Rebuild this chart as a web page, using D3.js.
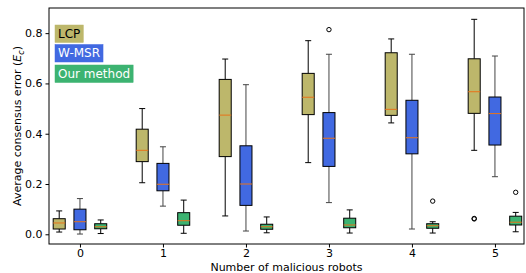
<!DOCTYPE html>
<html><head><meta charset="utf-8">
<script src="https://cdn.jsdelivr.net/npm/d3@7"></script>
<style>body{margin:0;background:#fff}svg{display:block;font-family:"DejaVu Sans",sans-serif}</style>
</head><body><svg id="c" width="526" height="273"></svg>
<script>
const categories = [0, 1, 2, 3, 4, 5];
const seriesNames = ["LCP", "W-MSR", "Our method"];
// [whiskerLow, q1, median, q3, whiskerHigh] per category
const lcp = [
  [0.009, 0.021, 0.045, 0.062, 0.093],
  [0.205, 0.289, 0.334, 0.418, 0.500],
  [0.073, 0.309, 0.474, 0.616, 0.697],
  [0.285, 0.476, 0.545, 0.640, 0.770],
  [0.443, 0.473, 0.497, 0.722, 0.777],
  [0.334, 0.481, 0.567, 0.698, 0.855]
];
const wmsr = [
  [0.001, 0.018, 0.050, 0.100, 0.142],
  [0.112, 0.173, 0.199, 0.282, 0.348],
  [0.013, 0.115, 0.200, 0.352, 0.595],
  [0.126, 0.270, 0.382, 0.484, 0.716],
  [0.021, 0.320, 0.384, 0.533, 0.716],
  [0.229, 0.355, 0.480, 0.546, 0.709]
];
const ours = [
  [0.003, 0.022, 0.030, 0.042, 0.057],
  [0.004, 0.036, 0.054, 0.086, 0.136],
  [0.006, 0.020, 0.030, 0.040, 0.069],
  [0.005, 0.026, 0.037, 0.064, 0.097],
  [0.005, 0.024, 0.034, 0.042, 0.050],
  [0.010, 0.037, 0.048, 0.072, 0.087]
];
const lcpOutliers = [[], [], [], [], [], [0.061, 0.063]];
const wmsrOutliers = [[], [], [], [0.814], [], []];
const oursOutliers = [[], [], [], [], [0.132], [0.167]];
const yTicks = [0.0, 0.2, 0.4, 0.6, 0.8];

const fills = ["#bdb76b", "#4169e1", "#3cb371"];
const whiskerColors = ["#000", "#444", "#000"];
const textColors = ["#000", "#fff", "#fff"];
const offsets = [-0.25, 0, 0.25];
const allStats = [lcp, wmsr, ours];
const allOut = [lcpOutliers, wmsrOutliers, oursOutliers];

const svg = d3.select("#c");
const L = 49, R = 524, T = 8, B = 244;
const x = d3.scaleLinear().domain([-0.373, 5.35]).range([L, R]);
const y = d3.scaleLinear().domain([-0.0386, 0.9]).range([B, T]);
const bw = x(0.145) - x(0);
const capW = bw * 0.5;

const g = svg.append("g");
allStats.forEach((stats, si) => {
  stats.forEach((s, ci) => {
    const cx = x(categories[ci] + offsets[si]);
    const [lo, q1, med, q3, hi] = s;
    const grp = g.append("g");
    grp.append("line").attr("x1", cx).attr("x2", cx).attr("y1", y(q1)).attr("y2", y(lo))
      .attr("stroke", whiskerColors[si]).attr("stroke-width", 1);
    grp.append("line").attr("x1", cx).attr("x2", cx).attr("y1", y(q3)).attr("y2", y(hi))
      .attr("stroke", whiskerColors[si]).attr("stroke-width", 1);
    grp.append("line").attr("x1", cx - capW / 2).attr("x2", cx + capW / 2).attr("y1", y(lo)).attr("y2", y(lo))
      .attr("stroke", whiskerColors[si]).attr("stroke-width", 1);
    grp.append("line").attr("x1", cx - capW / 2).attr("x2", cx + capW / 2).attr("y1", y(hi)).attr("y2", y(hi))
      .attr("stroke", whiskerColors[si]).attr("stroke-width", 1);
    grp.append("rect").attr("x", cx - bw / 2).attr("width", bw)
      .attr("y", y(q3)).attr("height", y(q1) - y(q3))
      .attr("fill", fills[si]).attr("stroke", "#000").attr("stroke-width", 1);
    grp.append("line").attr("x1", cx - bw / 2).attr("x2", cx + bw / 2).attr("y1", y(med)).attr("y2", y(med))
      .attr("stroke", "#e8731a").attr("stroke-width", 1);
    allOut[si][ci].forEach(o => {
      grp.append("circle").attr("cx", cx).attr("cy", y(o)).attr("r", 2.2)
        .attr("fill", "none").attr("stroke", "#000").attr("stroke-width", 1);
    });
  });
});

// frame
svg.append("rect").attr("x", L).attr("y", T).attr("width", R - L).attr("height", B - T)
  .attr("fill", "none").attr("stroke", "#000").attr("stroke-width", 1);

const xAxis = svg.append("g").attr("transform", `translate(0,${B})`)
  .call(d3.axisBottom(x).tickValues(categories).tickFormat(d3.format("d")).tickSize(3.5).tickPadding(2));
const yAxis = svg.append("g").attr("transform", `translate(${L},0)`)
  .call(d3.axisLeft(y).tickValues(yTicks).tickFormat(d3.format(".1f")).tickSize(3.5).tickPadding(3));
[xAxis, yAxis].forEach(a => {
  a.select(".domain").remove();
  a.selectAll("text").attr("font-size", 11).attr("font-family", "DejaVu Sans").attr("fill", "#000");
  a.selectAll("line").attr("stroke", "#000");
});

svg.append("text").attr("x", (L + R) / 2).attr("y", 270.5).attr("text-anchor", "middle")
  .attr("font-size", 11).text("Number of malicious robots");
const yl = svg.append("text").attr("transform", `translate(21,${(T + B) / 2}) rotate(-90)`)
  .attr("text-anchor", "middle").attr("font-size", 11);
yl.append("tspan").text("Average consensus error (");
yl.append("tspan").attr("font-style", "italic").text("E");
yl.append("tspan").attr("font-style", "italic").attr("font-size", 8).attr("dy", 2.5).text("c");
yl.append("tspan").attr("dy", -2.5).text(")");

// legend text boxes
const legY = [25, 44.5, 65];
seriesNames.forEach((n, i) => {
  const t = svg.append("text").attr("x", 58).attr("y", legY[i] + 12.5).attr("font-size", 12)
    .attr("fill", textColors[i]).text(n);
  const bb = t.node().getBBox();
  svg.insert("rect", () => t.node()).attr("x", 55).attr("y", legY[i])
    .attr("width", bb.width + 6).attr("height", 17.5).attr("fill", fills[i]).attr("stroke", fills[i]).attr("stroke-width", 0.5);
});
</script></body></html>
